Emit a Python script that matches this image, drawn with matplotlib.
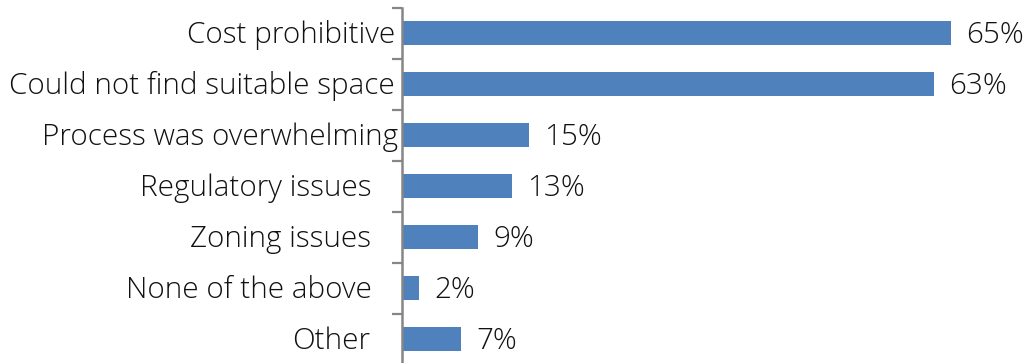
import matplotlib
matplotlib.use("Agg")
import matplotlib.pyplot as plt
from matplotlib.ticker import FixedLocator, NullFormatter

categories = [
    "Cost prohibitive",
    "Could not find suitable space",
    "Process was overwhelming",
    "Regulatory issues",
    "Zoning issues",
    "None of the above",
    "Other",
]
values = [65, 63, 15, 13, 9, 2, 7]

# right-edge gap (points) between each category label and the axis
label_pads = [5, 5, 3, 22, 22, 22, 23]

BAR_COLOR = "#4F81BD"
AXIS_COLOR = "#868686"
FONT = "Open Sans"
FS = 21.3

fig = plt.figure(figsize=(10.34, 3.63), dpi=100)
ax = fig.add_axes([402 / 1034, -1.5 / 363, 1 - 402 / 1034, 357 / 363])

pos = list(range(len(categories)))
ax.barh(pos, values, height=0.48, color=BAR_COLOR, zorder=2)

ax.set_ylim(len(categories) - 0.5, -0.5)
ax.set_xlim(0, (1034 - 402) / 8.446)

for sp in ("top", "right", "bottom"):
    ax.spines[sp].set_visible(False)
ax.spines["left"].set_color(AXIS_COLOR)
ax.spines["left"].set_linewidth(1.8)

ax.set_xticks([])
ax.yaxis.set_major_locator(FixedLocator([p - 0.5 for p in pos] + [len(pos) - 0.5]))
ax.yaxis.set_major_formatter(NullFormatter())
ax.tick_params(axis="y", length=7, width=1.6, color=AXIS_COLOR, direction="out")

for p, name, pad in zip(pos, categories, label_pads):
    ax.annotate(name, xy=(0, p), xycoords=("axes fraction", "data"),
                xytext=(-pad, -1.5), textcoords="offset points",
                ha="right", va="center", fontsize=FS, family=FONT,
                weight="light", color="#111111", annotation_clip=False)

for p, v in zip(pos, values):
    ax.annotate(f"{v}%", xy=(v, p), xytext=(11, -1.5), textcoords="offset points",
                ha="left", va="center", fontsize=FS, family=FONT,
                weight="light", color="#111111", annotation_clip=False)

fig.savefig("out.png", dpi=100)
